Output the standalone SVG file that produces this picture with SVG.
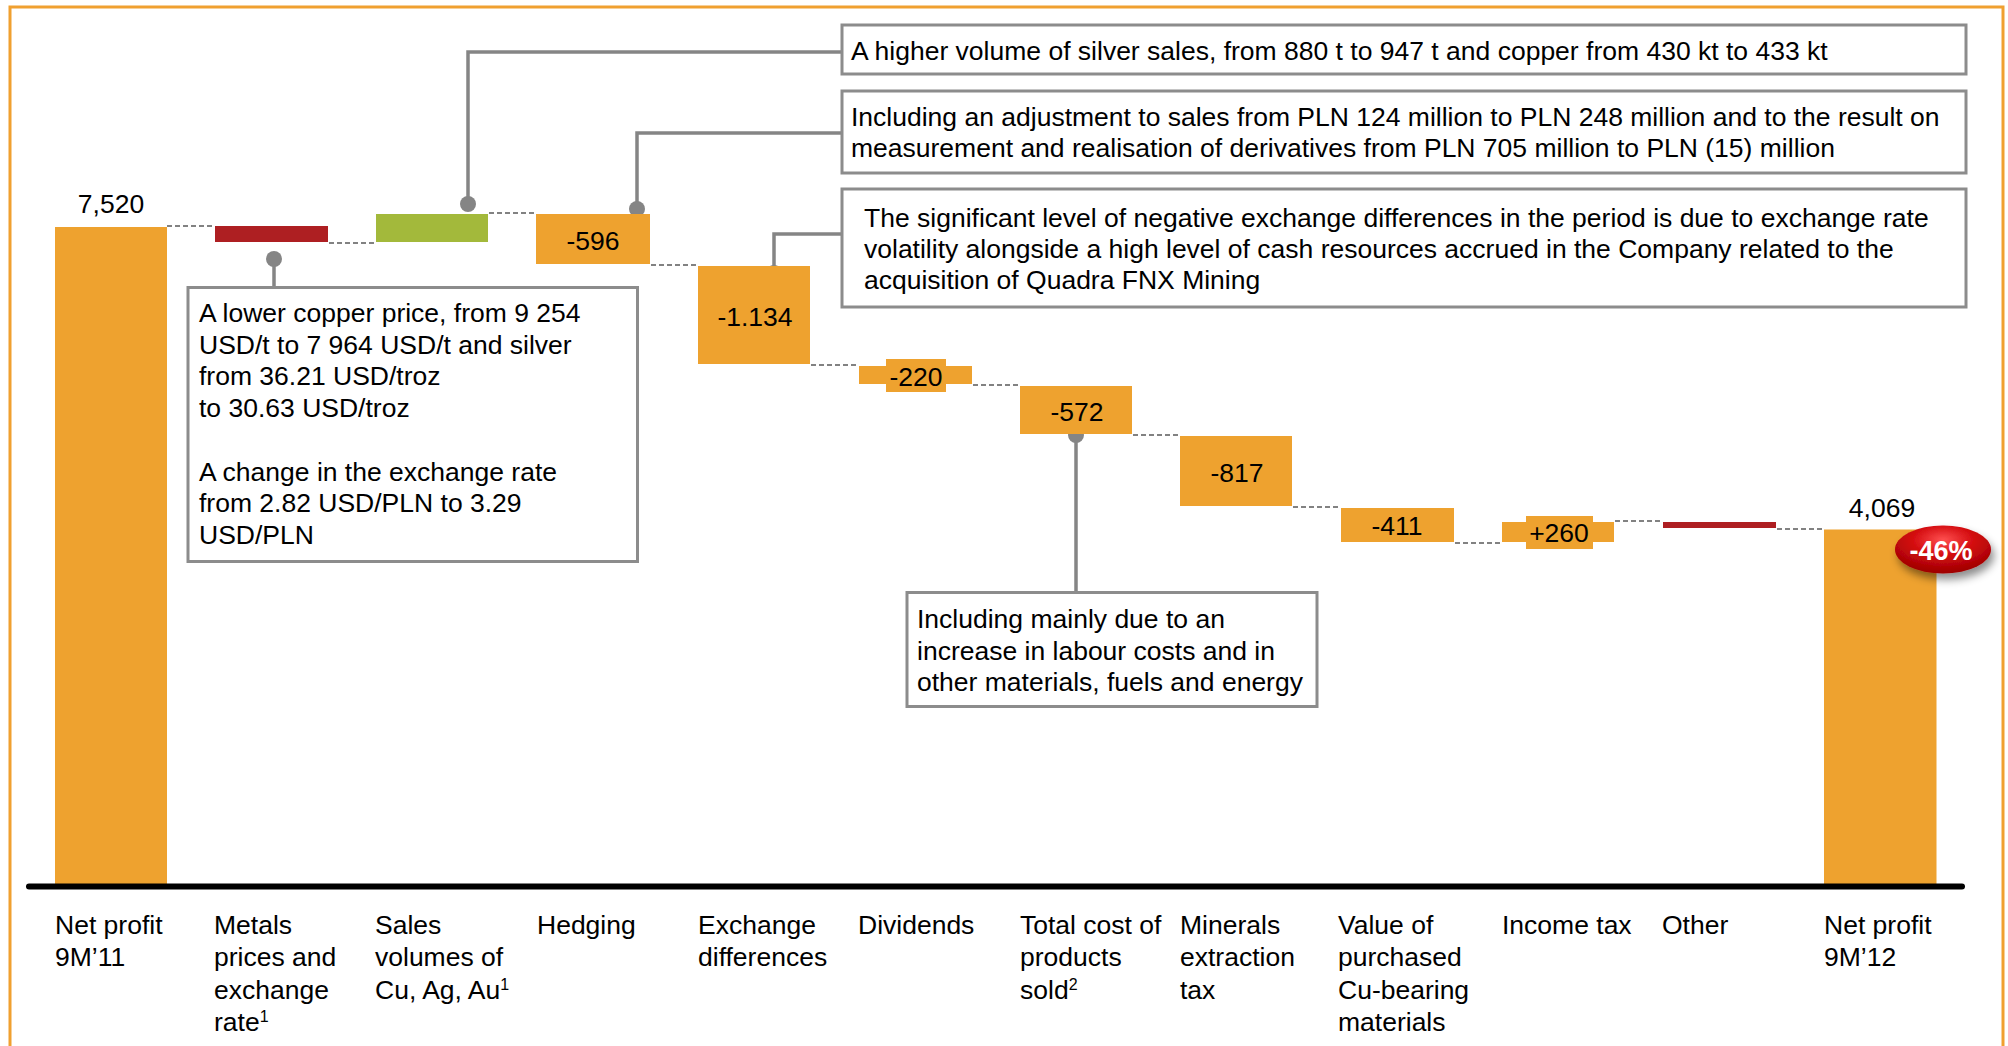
<svg xmlns="http://www.w3.org/2000/svg" width="2008" height="1046" viewBox="0 0 2008 1046">
<style>
text{font-family:"Liberation Sans",Arial,sans-serif;font-size:26.5px;fill:#000}
.bar{fill:#EEA22F}
.red{fill:#AE1F22}
.green{fill:#A3B93B}
.dash{stroke:#5a5a5a;stroke-width:1.5;stroke-dasharray:5 3;fill:none}
.conn{stroke:#858585;stroke-width:3.5;fill:none}
.dot{fill:#858585}
.box{fill:#fff;stroke:#8c8c8c;stroke-width:3}
.val{text-anchor:middle}
.sup{font-size:16px}
</style>
<defs>
<radialGradient id="badgeGrad" cx="0.5" cy="0.3" r="0.7">
<stop offset="0" stop-color="#ff5050"/>
<stop offset="0.45" stop-color="#d40c10"/>
<stop offset="1" stop-color="#9c0000"/>
</radialGradient>
<filter id="shadow" x="-30%" y="-30%" width="160%" height="180%">
<feDropShadow dx="3" dy="6" stdDeviation="4" flood-color="#000" flood-opacity="0.45"/>
</filter>
</defs>
<rect width="2008" height="1046" fill="#fff"/>
<rect x="10" y="7" width="1993" height="1060" fill="none" stroke="#F0A030" stroke-width="3"/>

<g id="connectors">
<line class="dash" x1="167" y1="226" x2="214" y2="226"/>
<line class="dash" x1="329" y1="243" x2="375" y2="243"/>
<line class="dash" x1="489" y1="213" x2="535" y2="213"/>
<line class="dash" x1="651" y1="265" x2="697" y2="265"/>
<line class="dash" x1="811" y1="365" x2="857" y2="365"/>
<line class="dash" x1="973" y1="385" x2="1019" y2="385"/>
<line class="dash" x1="1133" y1="435" x2="1179" y2="435"/>
<line class="dash" x1="1293" y1="507" x2="1339" y2="507"/>
<line class="dash" x1="1455" y1="543" x2="1501" y2="543"/>
<line class="dash" x1="1615" y1="521" x2="1661" y2="521"/>
<line class="dash" x1="1777" y1="529" x2="1822" y2="529"/>
<polyline class="conn" points="274,259 274,287"/>
<polyline class="conn" points="468,204 468,52 842,52"/>
<polyline class="conn" points="637,209 637,133 842,133"/>
<polyline class="conn" points="774,273 774,234 842,234"/>
<polyline class="conn" points="1076,435 1076,592"/>
<circle class="dot" cx="274" cy="259" r="8"/>
<circle class="dot" cx="468" cy="204" r="8"/>
<circle class="dot" cx="637" cy="209" r="8"/>
<circle class="dot" cx="774" cy="273" r="8"/>
<circle class="dot" cx="1076" cy="435" r="8"/>
</g>

<g id="bar-netprofit-9m11">
<rect class="bar" x="55" y="227" width="112" height="657"/>
<text class="val" x="111" y="213">7,520</text>
</g>
<g id="bar-metals">
<rect class="red" x="215" y="226" width="113" height="16"/>
</g>
<g id="bar-sales">
<rect class="green" x="376" y="214" width="112" height="28"/>
</g>
<g id="bar-hedging">
<rect class="bar" x="536" y="214" width="114" height="50"/>
<text class="val" x="593" y="250">-596</text>
</g>
<g id="bar-exchange">
<rect class="bar" x="698" y="266" width="112" height="98"/>
<text class="val" x="755" y="326">-1.134</text>
</g>
<g id="bar-dividends">
<rect class="bar" x="859" y="366" width="113" height="18"/>
<rect class="bar" x="886" y="359" width="60" height="33"/>
<text class="val" x="916" y="386">-220</text>
</g>
<g id="bar-cost">
<rect class="bar" x="1020" y="386" width="112" height="48"/>
<text class="val" x="1077" y="421">-572</text>
</g>
<g id="bar-minerals">
<rect class="bar" x="1180" y="436" width="112" height="70"/>
<text class="val" x="1237" y="482">-817</text>
</g>
<g id="bar-cu-materials">
<rect class="bar" x="1341" y="508" width="113" height="34"/>
<text class="val" x="1397" y="535">-411</text>
</g>
<g id="bar-income-tax">
<rect class="bar" x="1502" y="522" width="112" height="20"/>
<rect class="bar" x="1526" y="516" width="67" height="33"/>
<text class="val" x="1559" y="542">+260</text>
</g>
<g id="bar-other">
<rect class="red" x="1663" y="522" width="113" height="6"/>
</g>
<g id="bar-netprofit-9m12">
<rect class="bar" x="1824" y="529.5" width="112.5" height="354.5"/>
<text class="val" x="1882" y="517">4,069</text>
</g>
<g id="badge">
<ellipse cx="1943" cy="549.5" rx="48" ry="24" fill="url(#badgeGrad)" filter="url(#shadow)"/>
<text x="1941" y="560" text-anchor="middle" font-weight="bold" style="fill:#fff;font-size:27px">-46%</text>
</g>

<g id="axis">
<line x1="29" y1="886.5" x2="1962" y2="886.5" stroke="#000" stroke-width="6" stroke-linecap="round"/>
</g>

<g id="axis-labels">
<text x="55" y="934">Net profit<tspan x="55" dy="32.4">9M’11</tspan></text>
<text x="214" y="934">Metals<tspan x="214" dy="32.4">prices and</tspan><tspan x="214" dy="32.4">exchange</tspan><tspan x="214" dy="32.4">rate</tspan><tspan class="sup" dy="-9">1</tspan></text>
<text x="375" y="934">Sales<tspan x="375" dy="32.4">volumes of</tspan><tspan x="375" dy="32.4">Cu, Ag, Au</tspan><tspan class="sup" dy="-9">1</tspan></text>
<text x="537" y="934">Hedging</text>
<text x="698" y="934">Exchange<tspan x="698" dy="32.4">differences</tspan></text>
<text x="858" y="934">Dividends</text>
<text x="1020" y="934">Total cost of<tspan x="1020" dy="32.4">products</tspan><tspan x="1020" dy="32.4">sold</tspan><tspan class="sup" dy="-9">2</tspan></text>
<text x="1180" y="934">Minerals<tspan x="1180" dy="32.4">extraction</tspan><tspan x="1180" dy="32.4">tax</tspan></text>
<text x="1338" y="934">Value of<tspan x="1338" dy="32.4">purchased</tspan><tspan x="1338" dy="32.4">Cu-bearing</tspan><tspan x="1338" dy="32.4">materials</tspan></text>
<text x="1502" y="934">Income tax</text>
<text x="1662" y="934">Other</text>
<text x="1824" y="934">Net profit<tspan x="1824" dy="32.4">9M’12</tspan></text>
</g>

<g id="note-prices">
<rect class="box" x="188" y="287.5" width="449.5" height="274"/>
<text x="199" y="322">A lower copper price, from 9 254<tspan x="199" dy="31.7">USD/t to 7 964 USD/t and silver</tspan><tspan x="199" dy="31.7">from 36.21 USD/troz</tspan><tspan x="199" dy="31.7">to 30.63 USD/troz</tspan><tspan x="199" dy="63.4">A change in the exchange rate</tspan><tspan x="199" dy="31.7">from 2.82 USD/PLN to 3.29</tspan><tspan x="199" dy="31.7">USD/PLN</tspan></text>
</g>
<g id="note-volumes">
<rect class="box" x="842" y="25" width="1124" height="49"/>
<text x="851" y="60">A higher volume of silver sales, from 880 t to 947 t and copper from 430 kt to 433 kt</text>
</g>
<g id="note-hedging">
<rect class="box" x="842" y="91" width="1124" height="82"/>
<text x="851" y="126">Including an adjustment to sales from PLN 124 million to PLN 248 million and to the result on<tspan x="851" dy="31">measurement and realisation of derivatives from PLN 705 million to PLN (15) million</tspan></text>
</g>
<g id="note-exchange">
<rect class="box" x="842" y="189" width="1124" height="118"/>
<text x="864" y="227">The significant level of negative exchange differences in the period is due to exchange rate<tspan x="864" dy="30.8">volatility alongside a high level of cash resources accrued in the Company related to the</tspan><tspan x="864" dy="30.8">acquisition of Quadra FNX Mining</tspan></text>
</g>
<g id="note-cost">
<rect class="box" x="907" y="592.5" width="410" height="114"/>
<text x="917" y="628">Including mainly due to an<tspan x="917" dy="31.7">increase in labour costs and in</tspan><tspan x="917" dy="31.7">other materials, fuels and energy</tspan></text>
</g>
</svg>
